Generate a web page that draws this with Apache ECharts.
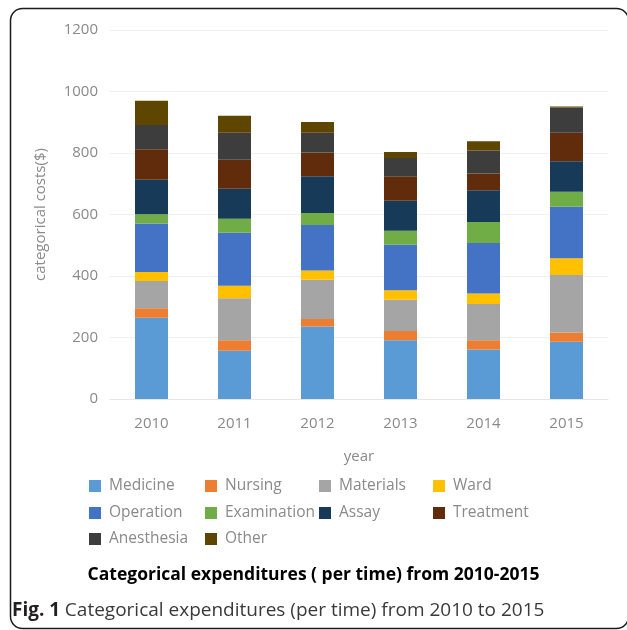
<!DOCTYPE html>
<html><head><meta charset="utf-8">
<script src="https://cdn.jsdelivr.net/npm/echarts@6/dist/echarts.min.js"></script>
<style>html,body{margin:0;padding:0;background:#fff}#c{width:627px;height:630px}</style>
</head><body><div id="c"></div>
<script>
const years = ['2010','2011','2012','2013','2014','2015'];
const seriesNames = ['Medicine','Nursing','Materials','Ward','Operation','Examination','Assay','Treatment','Anesthesia','Other'];
const medicine    = [264,157,236,191,161,186];
const nursing     = [31,34,24,30,30,30];
const materials   = [89,137,128,102,118,187];
const ward        = [29,40,30,31,34,55];
const operation   = [158,173,148,148,164,167];
const examination = [30,45,39,45,69,49];
const assay       = [112,98,119,98,103,99];
const treatment   = [99,94,78,79,54,93];
const anesthesia  = [79,88,64,60,75,82];
const other       = [79,55,35,19,30,3];
const yTicks = [0,200,400,600,800,1000,1200];

const values = [medicine,nursing,materials,ward,operation,examination,assay,treatment,anesthesia,other];
const colors = ['#5b9bd5','#ed7d31','#a5a5a5','#ffc000','#4472c4','#70ad47','#183a59','#612c0c','#3d3d3d','#5e4500'];
const legendPos = [[89,478],[205,478],[319,478],[433,478],[89,505],[205,505],[319,505],[433,505],[89,531],[205,531]];
const font = '"Open Sans", "Noto Sans", sans-serif';

const chart = echarts.init(document.getElementById('c'), null, {renderer:'canvas'});
chart.setOption({
  animation:false,
  color: colors,
  textStyle:{fontFamily:font},
  grid:{left:110,right:19,top:30,bottom:231},
  xAxis:{type:'category',data:years,name:'year',nameLocation:'middle',nameGap:50,
    nameTextStyle:{color:'#8a8a8a',fontSize:15,fontFamily:font},
    axisTick:{show:false},axisLine:{lineStyle:{color:'#e6e6e6'}},
    axisLabel:{color:'#8a8a8a',fontSize:15,margin:17,fontFamily:font}},
  yAxis:{type:'value',min:yTicks[0],max:yTicks[yTicks.length-1],interval:200,
    name:'categorical costs($)',nameLocation:'middle',nameGap:62,
    nameTextStyle:{color:'#8a8a8a',fontSize:15,fontFamily:font},
    axisLine:{show:false},axisTick:{show:false},
    splitLine:{lineStyle:{color:'#f0f0f0'}},
    axisLabel:{color:'#8a8a8a',fontSize:15,margin:12,fontFamily:font,formatter:v=>String(v)}},
  legend: seriesNames.map((n,i)=>({data:[n],left:legendPos[i][0],top:legendPos[i][1],padding:0,
    itemWidth:12,itemHeight:12,icon:'rect',itemGap:6,
    textStyle:{color:'#8a8a8a',fontSize:15.5,fontFamily:font,padding:[0,0,0,3]}})),
  title:[
    {text:'Categorical expenditures ( per time) from 2010-2015',left:'center',top:561,
     textStyle:{fontSize:17.5,fontWeight:'bold',color:'#000',fontFamily:font}},
    {text:'{b|Fig. 1} {r|Categorical expenditures (per time) from 2010 to 2015}',left:7,top:596,
     textStyle:{fontWeight:'normal',rich:{b:{fontSize:19,fontWeight:'bold',color:'#231f20',fontFamily:font},
                      r:{fontSize:19,fontWeight:'normal',color:'#3a3a3a',fontFamily:font}}}}
  ],
  graphic:[{type:'rect',shape:{x:10.5,y:8.5,width:618,height:620,r:12},
    style:{fill:'none',stroke:'#1a1a1a',lineWidth:1.5},silent:true}],
  series: seriesNames.map((n,i)=>({name:n,type:'bar',stack:'total',barWidth:33,data:values[i],
    itemStyle:{color:colors[i]}}))
});
</script></body></html>
